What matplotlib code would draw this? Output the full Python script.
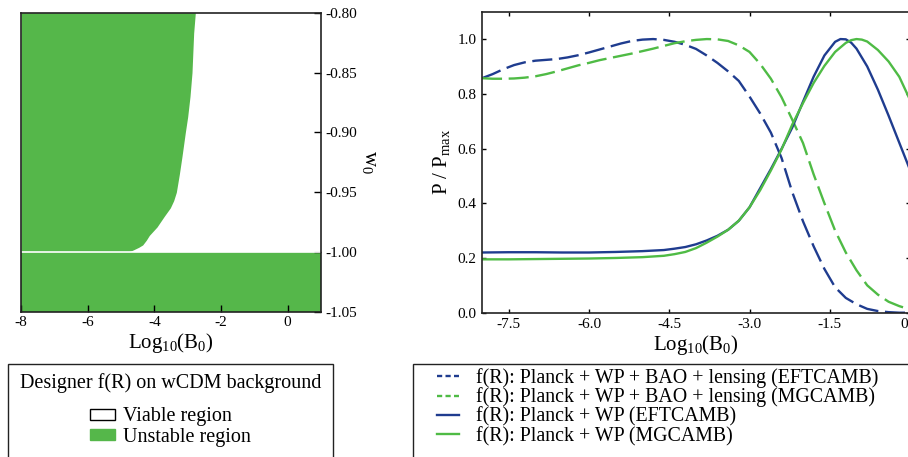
import matplotlib
matplotlib.use("Agg")
import matplotlib.pyplot as plt
from matplotlib.patches import Patch, Rectangle
from matplotlib.lines import Line2D

plt.rcParams['font.family'] = ['Liberation Serif', 'DejaVu Serif']
plt.rcParams['mathtext.fontset'] = 'custom'
plt.rcParams['mathtext.rm'] = 'Liberation Serif'
plt.rcParams['mathtext.it'] = 'Liberation Serif:italic'
plt.rcParams['axes.unicode_minus'] = False

# ---------------- data ----------------
# left panel: stability boundary (w0 vs log10 B0)
bound_w = [-1.000, -0.9995, -0.999, -0.998, -0.996, -0.994, -0.990, -0.986, -0.979,
           -0.970, -0.963, -0.957, -0.950, -0.935, -0.920, -0.900, -0.887, -0.870,
           -0.850, -0.817, -0.800]
bound_logB = [-4.85, -4.76, -4.70, -4.62, -4.47, -4.35, -4.24, -4.15, -3.92,
              -3.70, -3.52, -3.42, -3.34, -3.25, -3.17, -3.07, -3.00, -2.93,
              -2.87, -2.82, -2.77]
phantom_w = [-1.05, -1.00]

# right panel: posteriors (normalised to max)
x_bd = [-8.0, -7.8, -7.6, -7.4, -7.2, -7.0, -6.8, -6.6, -6.4, -6.2, -6.0, -5.8, -5.6,
        -5.4, -5.2, -5.0, -4.8, -4.6, -4.4, -4.2, -4.0, -3.8, -3.6, -3.4, -3.2, -3.0,
        -2.8, -2.6, -2.4, -2.2, -2.0, -1.8, -1.6, -1.4, -1.2, -1.0, -0.8, -0.6, -0.4,
        -0.2, 0.0]
y_bd = [0.857, 0.872, 0.890, 0.905, 0.915, 0.921, 0.924, 0.927, 0.933, 0.941, 0.951,
        0.962, 0.973, 0.984, 0.993, 0.998, 1.000, 0.997, 0.990, 0.979, 0.964, 0.940,
        0.913, 0.882, 0.847, 0.790, 0.728, 0.658, 0.565, 0.440, 0.334, 0.242, 0.160,
        0.093, 0.054, 0.031, 0.014, 0.006, 0.002, 0.0, 0.0]

x_gd = [-8.0, -7.8, -7.6, -7.4, -7.2, -7.0, -6.8, -6.6, -6.4, -6.2, -6.0, -5.8, -5.6,
        -5.4, -5.2, -5.0, -4.8, -4.6, -4.4, -4.2, -4.0, -3.8, -3.6, -3.4, -3.2, -3.0,
        -2.8, -2.6, -2.4, -2.2, -2.0, -1.8, -1.6, -1.4, -1.2, -1.0, -0.8, -0.6, -0.4,
        -0.2, 0.0]
y_gd = [0.857, 0.855, 0.855, 0.856, 0.859, 0.864, 0.872, 0.882, 0.893, 0.904, 0.913,
        0.923, 0.931, 0.939, 0.947, 0.956, 0.965, 0.975, 0.985, 0.992, 0.997, 1.000,
        0.999, 0.993, 0.977, 0.953, 0.909, 0.855, 0.787, 0.705, 0.620, 0.505, 0.400,
        0.300, 0.220, 0.155, 0.100, 0.066, 0.040, 0.024, 0.012]

x_bs = [-8.0, -7.5, -7.0, -6.5, -6.0, -5.5, -5.0, -4.6, -4.4, -4.2, -4.0, -3.8, -3.6,
        -3.4, -3.2, -3.0, -2.8, -2.6, -2.4, -2.2, -2.0, -1.8, -1.6, -1.4, -1.3, -1.2,
        -1.1, -1.0, -0.8, -0.6, -0.4, -0.2, 0.0]
y_bs = [0.220, 0.221, 0.221, 0.220, 0.220, 0.222, 0.225, 0.229, 0.234, 0.240, 0.250,
        0.264, 0.281, 0.303, 0.336, 0.385, 0.455, 0.525, 0.599, 0.677, 0.771, 0.863,
        0.940, 0.990, 1.000, 0.999, 0.987, 0.965, 0.900, 0.815, 0.720, 0.621, 0.522]

x_gs = [-8.0, -7.5, -7.0, -6.5, -6.0, -5.5, -5.0, -4.6, -4.4, -4.2, -4.0, -3.8, -3.6,
        -3.4, -3.2, -3.0, -2.8, -2.6, -2.4, -2.2, -2.0, -1.8, -1.6, -1.4, -1.2, -1.1,
        -1.0, -0.9, -0.8, -0.6, -0.4, -0.2, 0.0]
y_gs = [0.195, 0.195, 0.196, 0.197, 0.198, 0.200, 0.203, 0.208, 0.214, 0.222, 0.236,
        0.256, 0.278, 0.303, 0.336, 0.385, 0.448, 0.520, 0.597, 0.688, 0.766, 0.840,
        0.902, 0.953, 0.986, 0.996, 1.000, 0.998, 0.991, 0.960, 0.918, 0.862, 0.778]

labels = ['f(R): Planck + WP + BAO + lensing (EFTCAMB)',
          'f(R): Planck + WP + BAO + lensing (MGCAMB)',
          'f(R): Planck + WP (EFTCAMB)',
          'f(R): Planck + WP (MGCAMB)']
region_labels = ['Viable region', 'Unstable region']
legend_title = 'Designer f(R) on wCDM background'

GREEN_FILL = '#55b74a'
BLUE = '#1f3c8f'
GREEN = '#4fbb45'
W, H = 908, 457

fig = plt.figure(figsize=(W / 100, H / 100), dpi=100)

# ---------------- left panel ----------------
ax1 = fig.add_axes([21 / W, (H - 312) / H, 300 / W, 299.3 / H])
ax1.fill_betweenx(bound_w, -8, bound_logB, color=GREEN_FILL, lw=0)
ax1.fill_between([-8, 1], phantom_w[0], phantom_w[1], color=GREEN_FILL, lw=0)
ax1.axhline(-1.0, color='white', lw=1.2)
ax1.set_xlim(-8, 1)
ax1.set_ylim(-1.05, -0.80)
ax1.set_xticks([-8, -6, -4, -2, 0])
ax1.set_yticks([-1.05, -1.00, -0.95, -0.90, -0.85, -0.80])
ax1.set_yticklabels(['-1.05', '-1.00', '-0.95', '-0.90', '-0.85', '-0.80'])
ax1.yaxis.tick_right()
ax1.tick_params(direction='in', length=5, width=1, labelsize=11, pad=3,
                left=False, top=False, right=True, bottom=True)
ax1.yaxis.set_label_position('right')
ax1.set_ylabel(r'$\mathrm{w_0}$', rotation=270, fontsize=15, labelpad=16)
ax1.set_xlabel(r'$\mathrm{Log_{10}(B_0)}$', fontsize=15, labelpad=1)
for s in ax1.spines.values():
    s.set_linewidth(1.2)
    s.set_color('#222222')

# ---------------- right panel ----------------
ax2 = fig.add_axes([482 / W, (H - 312.7) / H, 428 / W, 301 / H])
ax2.plot(x_bd, y_bd, color=BLUE, lw=1.7, dashes=(8.5, 2.8))
ax2.plot(x_gd, y_gd, color=GREEN, lw=1.7, dashes=(8.5, 2.8))
ax2.plot(x_bs, y_bs, color=BLUE, lw=1.7)
ax2.plot(x_gs, y_gs, color=GREEN, lw=1.7)
ax2.set_xlim(-8, 0)
ax2.set_ylim(0, 1.1)
ax2.set_xticks([-7.5, -6.0, -4.5, -3.0, -1.5, 0.0])
ax2.set_xticklabels(['-7.5', '-6.0', '-4.5', '-3.0', '-1.5', '0.0'])
ax2.set_yticks([0.0, 0.2, 0.4, 0.6, 0.8, 1.0])
ax2.set_yticklabels(['0.0', '0.2', '0.4', '0.6', '0.8', '1.0'])
ax2.tick_params(direction='in', length=3, width=1, labelsize=11, pad=4,
                left=True, right=True, top=True, bottom=True)
ax2.set_xlabel(r'$\mathrm{Log_{10}(B_0)}$', fontsize=15, labelpad=1)
ax2.set_ylabel(r'$\mathrm{P\ /\ P_{max}}$', fontsize=15, labelpad=4)
for s in ax2.spines.values():
    s.set_linewidth(1.2)
    s.set_color('#222222')

# ---------------- legends ----------------
fig.text(170.5 / W, 1 - 383 / H, legend_title, ha='center', va='center',
         fontsize=14.5)
h_left = [Patch(facecolor='white', edgecolor='black', lw=1),
          Patch(facecolor=GREEN_FILL, edgecolor=GREEN_FILL, lw=1)]
leg1 = fig.legend(h_left, region_labels, loc='center left',
                  bbox_to_anchor=(90 / W, 1 - 427 / H), frameon=False,
                  fontsize=14.5, borderpad=0, borderaxespad=0,
                  handlelength=1.25, handleheight=0.45, handletextpad=0.4,
                  labelspacing=0.05)
fig.add_artist(Rectangle((8 / W, -0.1), 325 / W, 1 - 364 / H + 0.1,
                         transform=fig.transFigure, fill=False, lw=1,
                         edgecolor='#222222'))

h_right = [Line2D([], [], color=BLUE, lw=1.7, dashes=(2.2, 1.4)),
           Line2D([], [], color=GREEN, lw=1.7, dashes=(2.2, 1.4)),
           Line2D([], [], color=BLUE, lw=1.7),
           Line2D([], [], color=GREEN, lw=1.7)]
leg2 = fig.legend(h_right, labels, loc='center left',
                  bbox_to_anchor=(437 / W, 1 - 407 / H), frameon=False,
                  fontsize=14.3, borderpad=0, borderaxespad=0,
                  handlelength=1.1, handletextpad=0.85, labelspacing=0.0)
fig.add_artist(Rectangle((413 / W, -0.1), 1.0, 1 - 364 / H + 0.1,
                         transform=fig.transFigure, fill=False, lw=1,
                         edgecolor='#222222'))

fig.savefig('out.png', dpi=100)
